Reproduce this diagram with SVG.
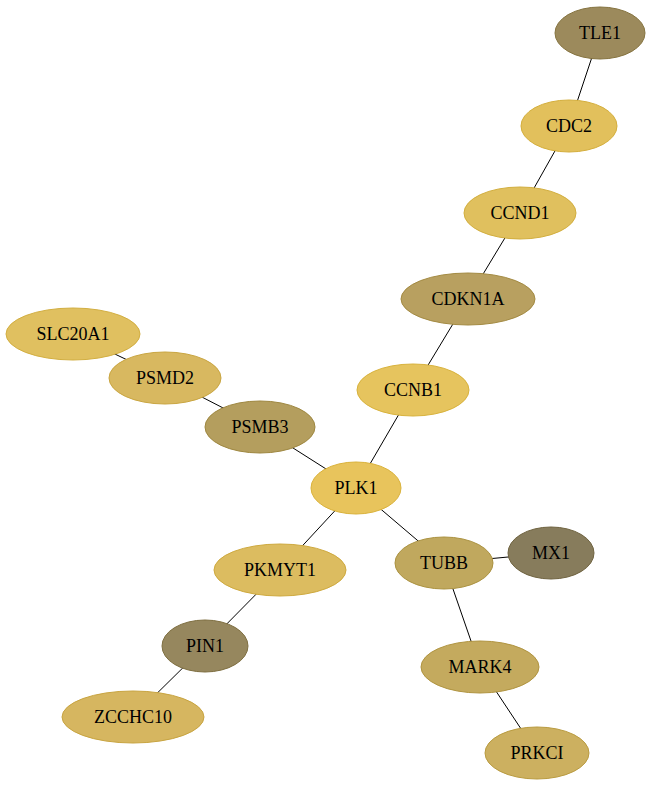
<svg xmlns="http://www.w3.org/2000/svg" width="652" height="787" viewBox="0 0 652 787">
<style>
.n text{font-family:"Liberation Serif","Times New Roman",serif;font-size:18px;text-anchor:middle;dominant-baseline:central;fill:#000}
.n ellipse{stroke-width:1}
.e line{stroke:#000;stroke-width:1}
</style>
<rect width="652" height="787" fill="#fff"/>
<g id="edges" class="e">
<line x1="600" y1="33" x2="569" y2="126"/>
<line x1="569" y1="126" x2="520" y2="213"/>
<line x1="520" y1="213" x2="468" y2="299"/>
<line x1="468" y1="299" x2="413" y2="390"/>
<line x1="413" y1="390" x2="356" y2="488"/>
<line x1="73" y1="334" x2="165" y2="378"/>
<line x1="165" y1="378" x2="260" y2="427"/>
<line x1="260" y1="427" x2="356" y2="488"/>
<line x1="356" y1="488" x2="280" y2="570"/>
<line x1="280" y1="570" x2="205" y2="646"/>
<line x1="205" y1="646" x2="133" y2="717"/>
<line x1="356" y1="488" x2="444" y2="563"/>
<line x1="444" y1="563" x2="551" y2="553"/>
<line x1="444" y1="563" x2="480" y2="667"/>
<line x1="480" y1="667" x2="537" y2="753"/>
</g>
<g id="TLE1" class="n"><ellipse cx="600" cy="33" rx="45" ry="26" fill="#9c8a5c" stroke="#85733f"/><text x="600" y="33">TLE1</text></g>
<g id="CDC2" class="n"><ellipse cx="569" cy="126" rx="48" ry="26" fill="#e2c05c" stroke="#d4ae3c"/><text x="569" y="126">CDC2</text></g>
<g id="CCND1" class="n"><ellipse cx="520" cy="213" rx="56" ry="26" fill="#e0c05e" stroke="#d2ae3e"/><text x="520" y="213">CCND1</text></g>
<g id="CDKN1A" class="n"><ellipse cx="468" cy="299" rx="67" ry="26" fill="#b8a060" stroke="#a38a42"/><text x="468" y="299">CDKN1A</text></g>
<g id="SLC20A1" class="n"><ellipse cx="73" cy="334" rx="67" ry="26" fill="#e0c060" stroke="#d2ae40"/><text x="73" y="334">SLC20A1</text></g>
<g id="PSMD2" class="n"><ellipse cx="165" cy="378" rx="56" ry="26" fill="#d8b860" stroke="#c9a540"/><text x="165" y="378">PSMD2</text></g>
<g id="PSMB3" class="n"><ellipse cx="260" cy="427" rx="55" ry="26" fill="#b49e5e" stroke="#9e8740"/><text x="260" y="427">PSMB3</text></g>
<g id="CCNB1" class="n"><ellipse cx="413" cy="390" rx="56" ry="26" fill="#e6c45e" stroke="#d8b23c"/><text x="413" y="390">CCNB1</text></g>
<g id="PLK1" class="n"><ellipse cx="356" cy="488" rx="45" ry="26" fill="#e8c45c" stroke="#dab23a"/><text x="356" y="488">PLK1</text></g>
<g id="TUBB" class="n"><ellipse cx="444" cy="563" rx="49" ry="26" fill="#c0a85e" stroke="#ab9240"/><text x="444" y="563">TUBB</text></g>
<g id="MX1" class="n"><ellipse cx="551" cy="553" rx="43" ry="26" fill="#877c5c" stroke="#6f6340"/><text x="551" y="553">MX1</text></g>
<g id="PKMYT1" class="n"><ellipse cx="280" cy="570" rx="66" ry="26" fill="#dcbc60" stroke="#cea93e"/><text x="280" y="570">PKMYT1</text></g>
<g id="PIN1" class="n"><ellipse cx="205" cy="646" rx="43" ry="26" fill="#96875e" stroke="#7e6e40"/><text x="205" y="646">PIN1</text></g>
<g id="ZCCHC10" class="n"><ellipse cx="133" cy="717" rx="71" ry="26" fill="#d6b660" stroke="#c8a440"/><text x="133" y="717">ZCCHC10</text></g>
<g id="MARK4" class="n"><ellipse cx="480" cy="667" rx="59" ry="26" fill="#c4aa5e" stroke="#b09440"/><text x="480" y="667">MARK4</text></g>
<g id="PRKCI" class="n"><ellipse cx="537" cy="753" rx="52" ry="26" fill="#ccb060" stroke="#b99b40"/><text x="537" y="753">PRKCI</text></g>
</svg>
